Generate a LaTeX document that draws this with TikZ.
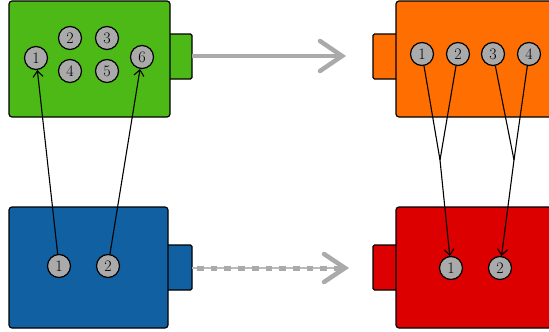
\documentclass[tikz,border=0pt]{standalone}
\usetikzlibrary{arrows.meta}
\definecolor{cgreen}{RGB}{76,185,23}
\definecolor{corange}{RGB}{255,110,0}
\definecolor{cblue}{RGB}{16,96,162}
\definecolor{cred}{RGB}{221,0,0}
\definecolor{cgray}{RGB}{170,170,170}
\definecolor{carrow}{RGB}{170,170,170}
\tikzset{
  box/.style={draw=black, line width=1.2pt, rounded corners=3pt},
  tab/.style={draw=black, line width=1.2pt, rounded corners=1.5pt},
  port/.style={circle, draw=black, line width=1.2pt, fill=cgray, minimum size=23pt, inner sep=0pt, font=\fontsize{16}{18}\selectfont},
  conn/.style={draw=black, line width=1.1pt},
  cend/.style={-{Straight Barb[length=6pt,width=10pt]}},
  bigarrow/.style={draw=carrow, line width=4.5pt, -{Straight Barb[length=22pt,width=30pt,line cap=round]}},
}
\begin{document}
\begin{tikzpicture}[x=1pt,y=-1pt]
\useasboundingbox (0,0) rectangle (549,332);
% green
\path[tab, fill=cgreen] (160,34) rectangle (192,79);
\path[box, fill=cgreen] (9,1) rectangle (170,117);
% orange
\path[tab, fill=corange] (373,34) rectangle (405,79);
\path[box, fill=corange] (396,1) rectangle (570,117);
% blue
\path[tab, fill=cblue] (158,245) rectangle (192,290);
\path[box, fill=cblue] (9,207) rectangle (168,328);
% red
\path[tab, fill=cred] (373,245) rectangle (405,290);
\path[box, fill=cred] (396,207) rectangle (570,328);

% ports
\node[port] (g1) at (36,58) {1};
\node[port] (g2) at (70,38) {2};
\node[port] (g3) at (107,38) {3};
\node[port] (g4) at (70,71) {4};
\node[port] (g5) at (107,71) {5};
\node[port] (g6) at (142,57) {6};
\node[port] (o1) at (422,54) {1};
\node[port] (o2) at (458,54) {2};
\node[port] (o3) at (493,54) {3};
\node[port] (o4) at (529,54) {4};
\node[port] (b1) at (59,266) {1};
\node[port] (b2) at (108,266) {2};
\node[port] (r1) at (451,268) {1};
\node[port] (r2) at (500,268) {2};

% big arrows
\coordinate (a1s) at (192,56);
\coordinate (a1e) at (346,56);
\draw[bigarrow] (a1s) -- (a1e);
\coordinate (a2s) at (192,268);
\coordinate (a2m) at (342,268);
\coordinate (t1) at (324,254);
\coordinate (t2) at (345,268);
\coordinate (t3) at (324,282);
\draw[draw=carrow!80!white, line width=1.8pt] (a2s) -- (a2m);
\draw[draw=carrow, line width=5pt, dash pattern=on 6.7pt off 7pt, dash phase=-5pt] (a2s) -- (a2m);
\draw[draw=carrow, line width=4.5pt, line cap=round, line join=miter] (t1) -- (t2) -- (t3);

% connectors
\draw[conn, cend] (b1) -- (g1);
\draw[conn, cend] (b2) -- (g6);
\coordinate (j1) at (440,160);
\coordinate (j2) at (514,160);
\draw[conn] (o2) -- (j1);
\draw[conn, cend] (o1) -- (j1) -- (r1);
\draw[conn] (o3) -- (j2);
\draw[conn, cend] (o4) -- (j2) -- (r2);
\end{tikzpicture}
\end{document}
